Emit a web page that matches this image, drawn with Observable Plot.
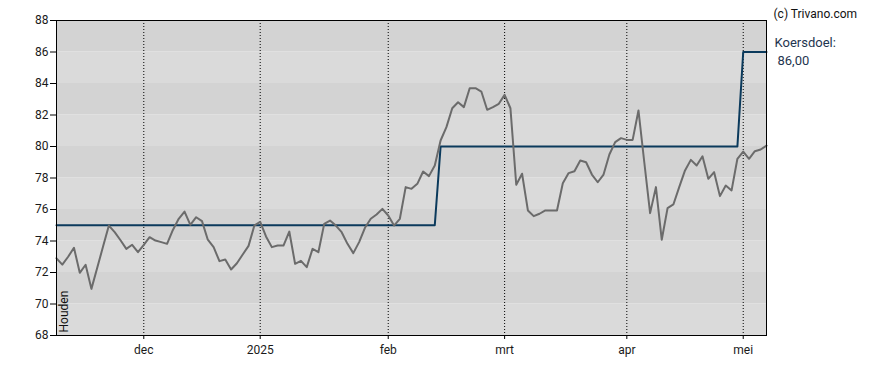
<!DOCTYPE html>
<html>
<head>
<meta charset="utf-8">
<script src="https://cdn.jsdelivr.net/npm/d3@7"></script>
<script src="https://cdn.jsdelivr.net/npm/@observablehq/plot@0.6"></script>
<style>
  html, body { margin: 0; padding: 0; background: white; }
</style>
</head>
<body>
<div id="chart"></div>
<script>
// Closing prices, one per trading day (index 0 = first trading day shown)
const prices = [
  72.9, 72.5, 73.0, 73.57, 71.98, 72.49, 70.96, 72.3, 73.65, 74.98,
  74.56, 74.05, 73.5, 73.76, 73.29, 73.75, 74.24, 74.03, 73.93, 73.82,
  74.7, 75.41, 75.87, 75.03, 75.51, 75.26, 74.08, 73.61, 72.72, 72.83,
  72.19, 72.59, 73.14, 73.69, 74.98, 75.22, 74.29, 73.61, 73.71, 73.71,
  74.6, 72.55, 72.74, 72.34, 73.5, 73.29, 75.09, 75.3, 74.98, 74.56,
  73.82, 73.23, 73.93, 74.84, 75.41, 75.68, 76.04, 75.62, 74.98, 75.41,
  77.42, 77.31, 77.63, 78.41, 78.12, 78.79, 80.38, 81.23, 82.43, 82.81,
  82.5, 83.7, 83.7, 83.49, 82.33, 82.5, 82.71, 83.28, 82.43, 77.57,
  78.27, 75.94, 75.58, 75.73, 75.94, 75.94, 75.94, 77.67, 78.31, 78.43,
  79.11, 79.0, 78.22, 77.73, 78.22, 79.49, 80.28, 80.53, 80.42, 80.42,
  82.29, 79.0, 75.77, 77.42, 74.08, 76.09, 76.32, 77.42, 78.48, 79.15,
  78.79, 79.38, 77.95, 78.37, 76.85, 77.52, 77.21, 79.22, 79.68, 79.22,
  79.7, 79.81, 80.06
];

// Price target (koersdoel) vertices: trading-day index and value
const targetDays = [0, 65, 66, 117, 118, 122];
const targetValues = [75, 75, 80, 80, 86, 86];

// Month ticks (trading-day index of first trading day of month) and labels
const monthTicks = [15, 35, 57, 77, 98, 118];
const monthLabels = ["dec", "2025", "feb", "mrt", "apr", "mei"];

// Y ticks
const yTicks = [68, 70, 72, 74, 76, 78, 80, 82, 84, 86, 88];

const adviceLabel = "Houden";
const targetLabel = "Koersdoel:";
const copyright = "(c) Trivano.com";

const priceData = prices.map((v, i) => ({day: i, value: v}));
const targetData = targetDays.map((d, i) => ({day: d, value: targetValues[i]}));
const bands = yTicks.slice(0, -1).map((lo, i) => ({lo, hi: yTicks[i + 1], k: i % 2}));
const lastDay = prices.length - 1;
const lastTarget = targetValues[targetValues.length - 1];
const fmt = v => v.toFixed(2).replace(".", ",");

const chart = Plot.plot({
  width: 888,
  height: 370,
  marginLeft: 56,
  marginTop: 20,
  marginRight: 122,
  marginBottom: 35,
  style: {fontFamily: "Roboto, sans-serif", fontSize: "12px", color: "#1a1a1a", background: "white"},
  x: {domain: [0, lastDay], axis: null},
  y: {domain: [68, 88], axis: null},
  marks: [
    Plot.rect(bands, {
      x1: 0, x2: lastDay, y1: "lo", y2: "hi",
      fill: d => d.k === 0 ? "#dadada" : "#d3d3d3"
    }),
    Plot.ruleX(monthTicks, {stroke: "#000", strokeWidth: 1, strokeDasharray: "1,2"}),
    Plot.line(targetData, {x: "day", y: "value", stroke: "#0b3a5c", strokeWidth: 2}),
    Plot.line(priceData, {x: "day", y: "value", stroke: "#6b6b6b", strokeWidth: 2, strokeLinejoin: "round"}),
    Plot.frame({stroke: "#000", strokeWidth: 1}),
    Plot.axisY(yTicks, {tickSize: 6, tickPadding: 2, fontSize: 12, label: null, stroke: "#000"}),
    Plot.axisX(monthTicks, {
      tickSize: 4, tickPadding: 6, fontSize: 12, label: null, stroke: "#000",
      tickFormat: d => monthLabels[monthTicks.indexOf(d)]
    }),
    Plot.text([adviceLabel], {
      frameAnchor: "bottom-left", text: d => d, rotate: -90,
      textAnchor: "start", dx: 11, dy: -3, fontSize: 12, fill: "#111"
    }),
    Plot.text([{day: lastDay, value: lastTarget}], {
      x: "day", y: "value", text: () => targetLabel,
      textAnchor: "start", dx: 8, dy: -9, fontSize: 13, fill: "#1f3550"
    }),
    Plot.text([{day: lastDay, value: lastTarget}], {
      x: "day", y: "value", text: d => fmt(d.value),
      textAnchor: "start", dx: 11, dy: 9, fontSize: 13, fill: "#1f3550"
    }),
    Plot.text([copyright], {
      frameAnchor: "top-right", text: d => d,
      textAnchor: "start", dx: 7, dy: -11.5, fontSize: 12, fill: "#111"
    })
  ]
});

document.getElementById("chart").appendChild(chart);
</script>
</body>
</html>
